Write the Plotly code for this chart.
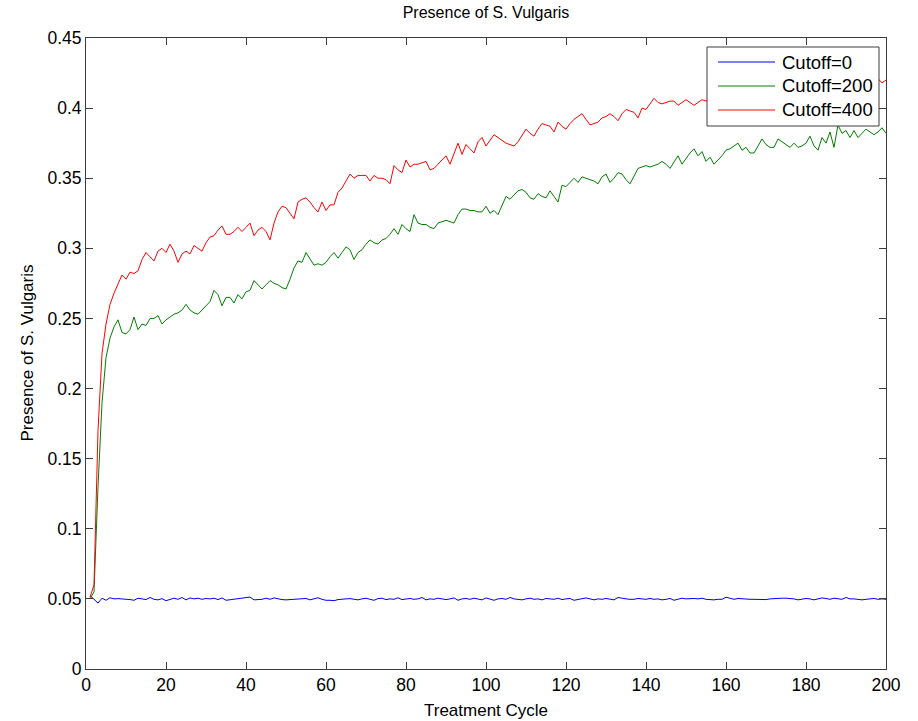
import plotly.graph_objects as go

cycles = list(range(1, 201))

cutoff_0 = [
    0.0525, 0.0500, 0.0470, 0.0505, 0.0490, 0.0508, 0.0500, 0.0502, 0.0500, 0.0500,
    0.0495, 0.0490, 0.0505, 0.0500, 0.0495, 0.0510, 0.0497, 0.0493, 0.0502, 0.0487,
    0.0497, 0.0505, 0.0497, 0.0510, 0.0493, 0.0507, 0.0500, 0.0505, 0.0497, 0.0503,
    0.0500, 0.0505, 0.0495, 0.0507, 0.0490, 0.0493, 0.0500, 0.0503, 0.0505, 0.0510,
    0.0513, 0.0493, 0.0495, 0.0497, 0.0505, 0.0497, 0.0507, 0.0500, 0.0495, 0.0493,
    0.0495, 0.0495, 0.0497, 0.0500, 0.0503, 0.0493, 0.0500, 0.0508, 0.0497, 0.0490,
    0.0490, 0.0487, 0.0495, 0.0500, 0.0500, 0.0502, 0.0498, 0.0493, 0.0500, 0.0505,
    0.0497, 0.0490, 0.0502, 0.0505, 0.0495, 0.0500, 0.0497, 0.0508, 0.0495, 0.0500,
    0.0503, 0.0497, 0.0500, 0.0510, 0.0493, 0.0500, 0.0497, 0.0505, 0.0500, 0.0495,
    0.0500, 0.0507, 0.0490, 0.0500, 0.0503, 0.0497, 0.0505, 0.0500, 0.0493, 0.0507,
    0.0497, 0.0490, 0.0500, 0.0503, 0.0497, 0.0510, 0.0500, 0.0495, 0.0493, 0.0500,
    0.0505, 0.0497, 0.0500, 0.0493, 0.0503, 0.0500, 0.0497, 0.0505, 0.0495, 0.0500,
    0.0503, 0.0490, 0.0497, 0.0500, 0.0507, 0.0500, 0.0493, 0.0500, 0.0497, 0.0503,
    0.0500, 0.0493, 0.0510, 0.0503, 0.0500, 0.0497, 0.0497, 0.0503, 0.0500, 0.0497,
    0.0503, 0.0497, 0.0500, 0.0493, 0.0497, 0.0503, 0.0490, 0.0500, 0.0505, 0.0500,
    0.0503, 0.0503, 0.0500, 0.0505, 0.0497, 0.0493, 0.0493, 0.0497, 0.0497, 0.0512,
    0.0505, 0.0497, 0.0503, 0.0500, 0.0495, 0.0497, 0.0497, 0.0495, 0.0497, 0.0495,
    0.0500, 0.0503, 0.0503, 0.0505, 0.0505, 0.0505, 0.0500, 0.0493, 0.0500, 0.0503,
    0.0500, 0.0493, 0.0500, 0.0507, 0.0503, 0.0497, 0.0505, 0.0500, 0.0497, 0.0510,
    0.0500, 0.0500, 0.0497, 0.0493, 0.0497, 0.0500, 0.0503, 0.0497, 0.0500, 0.0497,
]

cutoff_200 = [
    0.050, 0.055, 0.130, 0.190, 0.222, 0.236, 0.244, 0.249, 0.240, 0.239,
    0.242, 0.251, 0.242, 0.246, 0.245, 0.250, 0.250, 0.252, 0.246, 0.249,
    0.251, 0.253, 0.254, 0.256, 0.260, 0.256, 0.254, 0.253, 0.256, 0.259,
    0.262, 0.270, 0.267, 0.259, 0.265, 0.265, 0.261, 0.267, 0.264, 0.269,
    0.270, 0.277, 0.274, 0.271, 0.274, 0.277, 0.275, 0.274, 0.272, 0.271,
    0.278, 0.286, 0.291, 0.290, 0.297, 0.292, 0.288, 0.289, 0.288, 0.290,
    0.294, 0.297, 0.293, 0.297, 0.301, 0.299, 0.292, 0.297, 0.299, 0.303,
    0.306, 0.304, 0.303, 0.306, 0.307, 0.310, 0.314, 0.310, 0.317, 0.314,
    0.312, 0.324, 0.318, 0.317, 0.317, 0.315, 0.314, 0.318, 0.319, 0.320,
    0.319, 0.318, 0.324, 0.328, 0.328, 0.327, 0.327, 0.326, 0.326, 0.330,
    0.325, 0.327, 0.324, 0.331, 0.337, 0.335, 0.338, 0.341, 0.342, 0.340,
    0.336, 0.335, 0.339, 0.337, 0.336, 0.341, 0.337, 0.333, 0.345, 0.344,
    0.347, 0.350, 0.347, 0.351, 0.350, 0.349, 0.348, 0.346, 0.351, 0.353,
    0.347, 0.350, 0.354, 0.353, 0.349, 0.346, 0.352, 0.357, 0.358, 0.359,
    0.358, 0.359, 0.360, 0.362, 0.360, 0.357, 0.362, 0.366, 0.360, 0.364,
    0.368, 0.371, 0.366, 0.369, 0.362, 0.365, 0.360, 0.363, 0.366, 0.370,
    0.371, 0.373, 0.375, 0.370, 0.372, 0.368, 0.368, 0.373, 0.378, 0.374,
    0.372, 0.372, 0.378, 0.376, 0.374, 0.372, 0.375, 0.372, 0.373, 0.375,
    0.380, 0.373, 0.370, 0.379, 0.375, 0.383, 0.372, 0.388, 0.382, 0.384,
    0.379, 0.384, 0.379, 0.382, 0.385, 0.383, 0.381, 0.383, 0.386, 0.382,
]

cutoff_400 = [
    0.051, 0.060, 0.170, 0.225, 0.246, 0.260, 0.268, 0.275, 0.281, 0.278,
    0.283, 0.282, 0.284, 0.292, 0.297, 0.294, 0.291, 0.298, 0.300, 0.297,
    0.303, 0.298, 0.290, 0.296, 0.298, 0.296, 0.302, 0.300, 0.298, 0.304,
    0.308, 0.309, 0.313, 0.316, 0.310, 0.310, 0.312, 0.315, 0.312, 0.315,
    0.318, 0.309, 0.313, 0.315, 0.312, 0.306, 0.318, 0.326, 0.330, 0.329,
    0.325, 0.321, 0.333, 0.335, 0.336, 0.333, 0.329, 0.326, 0.333, 0.327,
    0.331, 0.331, 0.340, 0.343, 0.348, 0.353, 0.350, 0.352, 0.352, 0.352,
    0.348, 0.352, 0.350, 0.350, 0.349, 0.346, 0.359, 0.356, 0.354, 0.363,
    0.358, 0.360, 0.360, 0.361, 0.362, 0.356, 0.357, 0.360, 0.363, 0.366,
    0.360, 0.368, 0.375, 0.367, 0.374, 0.371, 0.368, 0.376, 0.379, 0.373,
    0.377, 0.381, 0.379, 0.377, 0.375, 0.374, 0.373, 0.376, 0.381, 0.385,
    0.382, 0.380, 0.385, 0.389, 0.388, 0.387, 0.383, 0.390, 0.387, 0.385,
    0.389, 0.392, 0.394, 0.396, 0.392, 0.388, 0.389, 0.390, 0.393, 0.394,
    0.396, 0.394, 0.391, 0.396, 0.399, 0.398, 0.397, 0.393, 0.400, 0.399,
    0.403, 0.407, 0.404, 0.403, 0.404, 0.405, 0.405, 0.402, 0.404, 0.406,
    0.404, 0.402, 0.404, 0.406, 0.405, 0.407, 0.409, 0.406, 0.410, 0.408,
    0.411, 0.409, 0.407, 0.411, 0.413, 0.410, 0.409, 0.412, 0.414, 0.411,
    0.410, 0.413, 0.412, 0.415, 0.413, 0.411, 0.414, 0.416, 0.413, 0.415,
    0.417, 0.414, 0.413, 0.416, 0.418, 0.415, 0.417, 0.414, 0.416, 0.418,
    0.415, 0.417, 0.419, 0.416, 0.415, 0.418, 0.414, 0.421, 0.418, 0.420,
]

series_names = ["Cutoff=0", "Cutoff=200", "Cutoff=400"]
series_values = [cutoff_0, cutoff_200, cutoff_400]
series_colors = ["#0000ff", "#008000", "#ff0000"]

x_ticks = [0, 20, 40, 60, 80, 100, 120, 140, 160, 180, 200]
y_ticks = [0, 0.05, 0.1, 0.15, 0.2, 0.25, 0.3, 0.35, 0.4, 0.45]
y_tick_text = ["0", "0.05", "0.1", "0.15", "0.2", "0.25", "0.3", "0.35", "0.4", "0.45"]

font_family = "Liberation Sans, Arial, sans-serif"
axis_color = "#3c3c3c"

# plot area in pixels (figure 918 x 721)
W, H = 918, 721
L, R, T, B = 86, 32, 38, 52
PW, PH = W - L - R, H - T - B


def px_x(px):
    return (px - L) / PW


def px_y(py):
    return (H - B - py) / PH


fig = go.Figure()
for name, vals, col in zip(series_names, series_values, series_colors):
    fig.add_trace(go.Scatter(x=cycles, y=vals, mode="lines", name=name,
                             line=dict(color=col, width=1), showlegend=False))

axis_common = dict(
    showgrid=False, zeroline=False, showline=True, linecolor=axis_color, linewidth=1,
    mirror="ticks", ticks="inside", ticklen=7, tickcolor=axis_color, tickwidth=1,
    tickfont=dict(family=font_family, size=17.5, color="black"), automargin=False,
)

shapes = []
annotations = []

# legend box (MATLAB style)
shapes.append(dict(type="rect", xref="paper", yref="paper",
                   x0=px_x(707), x1=px_x(879), y0=px_y(126), y1=px_y(47),
                   line=dict(color=axis_color, width=1), fillcolor="white", layer="above"))
row_y = [62, 86, 110]
for name, col, ry in zip(series_names, series_colors, row_y):
    shapes.append(dict(type="line", xref="paper", yref="paper",
                       x0=px_x(718), x1=px_x(775), y0=px_y(ry), y1=px_y(ry),
                       line=dict(color=col, width=1), layer="above"))
    annotations.append(dict(text=name, xref="paper", yref="paper",
                            x=px_x(780), y=px_y(ry), xanchor="left", yanchor="middle",
                            showarrow=False,
                            font=dict(family=font_family, size=18.5, color="black")))

# axis titles
annotations.append(dict(text="Treatment Cycle", xref="paper", yref="paper",
                        x=0.5, y=px_y(711), xanchor="center", yanchor="middle",
                        showarrow=False, font=dict(family=font_family, size=17, color="black")))
annotations.append(dict(text="Presence of S. Vulgaris", xref="paper", yref="paper",
                        x=px_x(27), y=0.5, xanchor="center", yanchor="middle", textangle=-90,
                        showarrow=False, font=dict(family=font_family, size=17, color="black")))

fig.update_layout(
    width=W, height=H,
    margin=dict(l=L, r=R, t=T, b=B, pad=0),
    paper_bgcolor="white", plot_bgcolor="white",
    font=dict(family=font_family, color="black"),
    title=dict(text="Presence of S. Vulgaris", x=(L + PW / 2) / W, xanchor="center",
               y=1 - 12 / H, yanchor="middle", yref="container",
               font=dict(family=font_family, size=16, color="black")),
    xaxis=dict(range=[0, 200], tickvals=x_ticks, **axis_common),
    yaxis=dict(range=[0, 0.45], tickvals=y_ticks, ticktext=y_tick_text, **axis_common),
    shapes=shapes,
    annotations=annotations,
    showlegend=False,
)

fig.write_html("out.html")
